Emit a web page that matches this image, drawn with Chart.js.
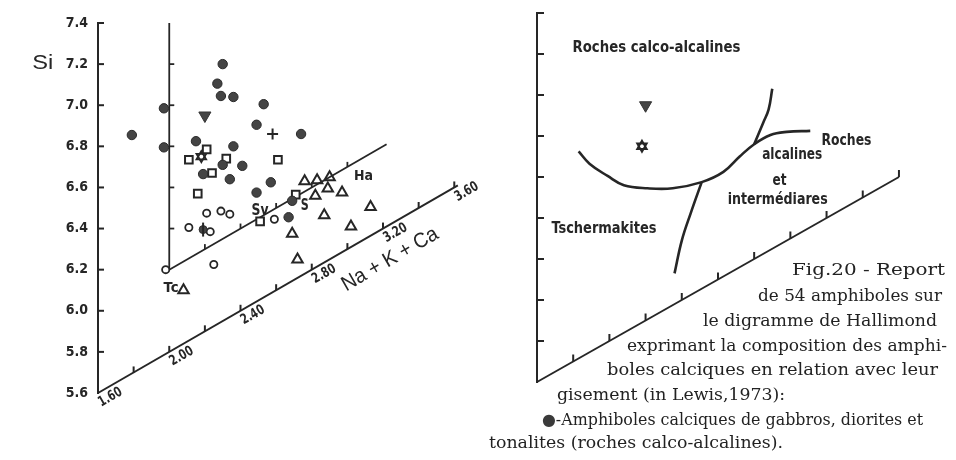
<!DOCTYPE html>
<html><head><meta charset="utf-8">
<script src="https://cdn.jsdelivr.net/npm/chart.js@4.4.0/dist/chart.umd.min.js"></script>
<style>
html,body{margin:0;padding:0;background:#fff;}
#wrap{position:relative;width:956px;height:460px;overflow:hidden;background:#fff;}
#c1{position:absolute;left:0;top:0;width:490px;height:460px;}
#c2{position:absolute;left:490px;top:0;width:466px;height:460px;}
.cap{position:absolute;font-family:'DejaVu Serif','Liberation Serif',serif;font-size:16px;line-height:18px;color:#222;white-space:nowrap;transform-origin:0 50%;}
.cap .dot{color:#3a3a3a;}
</style></head><body>
<div id="wrap">
<canvas id="c1" width="490" height="460"></canvas>
<canvas id="c2" width="466" height="460"></canvas>
<div class="cap" data-w="153" style="left:792px;top:261px">Fig.20 - Report</div>
<div class="cap" data-w="184" style="left:758px;top:287px">de 54 amphiboles sur</div>
<div class="cap" data-w="234" style="left:703px;top:312px">le digramme de Hallimond</div>
<div class="cap" data-w="320" style="left:627px;top:337px">exprimant la composition des amphi-</div>
<div class="cap" data-w="331" style="left:607px;top:361px">boles calciques en relation avec leur</div>
<div class="cap" data-w="228" style="left:557px;top:386px">gisement (in Lewis,1973):</div>
<div class="cap" data-w="381" style="left:542px;top:411px"><span class="dot">●</span>-Amphiboles calciques de gabbros, diorites et</div>
<div class="cap" data-w="294" style="left:489px;top:434px">tonalites (roches calco-alcalines).</div>
</div>
<script>
// ---------- axes / ticks ----------
const N_MIN = 1.6;            // Na+K+Ca at origin
const SI_MIN = 5.6, SI_MAX = 7.4;
const SHEAR = 0.5;            // Hallimond diagram: Na+K+Ca axis is inclined
const SI_TICKS = [5.6, 5.8, 6.0, 6.2, 6.4, 6.6, 6.8, 7.0, 7.2, 7.4];
const NKCA_TICKS = [1.8, 2.0, 2.2, 2.4, 2.6, 2.8, 3.0, 3.2, 3.4, 3.6];
const NKCA_LABEL_VALUES = [1.6, 2.0, 2.4, 2.8, 3.2, 3.6];
const NKCA_LABELS = ['1.60', '2.00', '2.40', '2.80', '3.20', '3.60'];
const INNER_SI_TICKS = [6.2, 6.4, 6.6, 6.8, 7.0];
const INNER_N_TICKS = [2.2, 2.4, 2.6, 2.8, 3.0];

// ---------- data (Na+K+Ca, Si) ----------
const gabbroN  = [1.79, 1.97, 1.97, 2.30, 2.27, 2.29, 2.36, 2.53, 2.49, 2.74, 2.15, 2.36, 2.30, 2.41, 2.19, 2.34, 2.57, 2.49, 2.69, 2.67];
const gabbroSi = [6.76, 6.80, 6.61, 6.85, 6.77, 6.70, 6.66, 6.54, 6.46, 6.29, 6.55, 6.42, 6.36, 6.30, 6.37, 6.27, 6.14, 6.13, 5.99, 5.92];
const openCircleN  = [2.21, 2.29, 2.34, 2.11, 2.23, 2.25, 2.59, 1.98];
const openCircleSi = [6.17, 6.14, 6.10, 6.15, 6.07, 5.90, 5.95, 6.01];
const squareN  = [2.11, 2.21, 2.24, 2.32, 2.16, 2.61, 2.71, 2.51];
const squareSi = [6.48, 6.48, 6.35, 6.38, 6.29, 6.23, 6.01, 5.98];
const triangleN  = [2.76, 2.83, 2.90, 2.82, 2.89, 2.97, 3.13, 2.87, 3.02, 2.69, 2.72, 2.08];
const triangleSi = [6.05, 6.02, 6.00, 5.95, 5.95, 5.89, 5.74, 5.83, 5.70, 5.83, 5.69, 5.86];
const plusN = [2.58],  plusSi = [6.37];
const invTriN = [2.20], invTriSi = [6.65];
const starN = [2.18],  starSi = [6.46];
const phiN = [2.19],   phiSi = [6.10];

// field boundaries (right diagram)
const boundaryMainN  = [1.83, 1.89, 1.99, 2.08, 2.21, 2.35, 2.51, 2.63, 2.72, 2.80, 2.89, 2.98, 3.11];
const boundaryMainSi = [6.61, 6.52, 6.41, 6.32, 6.24, 6.17, 6.12, 6.11, 6.14, 6.16, 6.16, 6.13, 6.07];
const boundaryUpN  = [2.80, 2.85, 2.88, 2.90];
const boundaryUpSi = [6.16, 6.24, 6.29, 6.38];
const boundaryDownN  = [2.51, 2.45, 2.40, 2.36];
const boundaryDownSi = [6.12, 6.00, 5.89, 5.75];

// annotation labels
const LEFT_LABELS = [
  {t: 'Tc', n: 2.01, si: 5.906, size: 14, w: 15},
  {t: 'Sv', n: 2.51, si: 6.029, size: 15, w: 17},
  {t: 'S',  n: 2.76, si: 5.929, size: 15, w: 8},
  {t: 'Ha', n: 3.09, si: 5.908, size: 14, w: 19}
];
const RIGHT_LABELS = [
  {t: 'Roches calco-alcalines', n: 2.26, si: 6.90, w: 168},
  {t: 'Tschermakites', n: 1.97, si: 6.16, w: 105},
  {t: 'Roches', n: 3.31, si: 5.92, w: 50},
  {t: 'alcalines', n: 3.01, si: 6.00, w: 60},
  {t: 'et', n: 2.94, si: 5.91, w: 14},
  {t: 'intermédiares', n: 2.93, si: 5.82, w: 100}
];

const INK = '#262626';
const CONDENSED = "'Liberation Sans Narrow','DejaVu Sans Condensed','Roboto Condensed','Arial Narrow','Liberation Sans',sans-serif";

function proj(nArr, siArr) {
  return nArr.map((n, i) => ({x: n, y: siArr[i] + SHEAR * (n - N_MIN)}));
}
function P(chart, n, si) {
  return {x: chart.scales.x.getPixelForValue(n), y: chart.scales.y.getPixelForValue(si + SHEAR * (n - N_MIN))};
}
function txt(ctx, text, x, y, font, target, o) {
  o = o || {};
  ctx.save();
  ctx.font = font;
  ctx.fillStyle = INK;
  const w = ctx.measureText(text).width;
  const k = target ? target / w : 1;
  ctx.translate(x, y);
  if (o.angle) ctx.rotate(o.angle);
  if (o.dx || o.dy) ctx.translate(o.dx || 0, o.dy || 0);
  ctx.scale(k, 1);
  ctx.textAlign = o.align || 'center';
  ctx.textBaseline = o.baseline || 'middle';
  ctx.fillText(text, 0, 0);
  ctx.restore();
}
function seg(ctx, a, b) { ctx.beginPath(); ctx.moveTo(a.x, a.y); ctx.lineTo(b.x, b.y); ctx.stroke(); }

const markerSets = () => [
  {label: 'plus', data: proj(plusN, plusSi), pointStyle: 'cross', pointRadius: 5.5, borderColor: INK, borderWidth: 2, backgroundColor: INK},
  {label: 'phi-bar', data: proj(phiN, phiSi), pointStyle: 'line', rotation: 90, pointRadius: 7, borderColor: INK, borderWidth: 2},
  {label: 'phi', data: proj(phiN, phiSi), pointStyle: 'circle', pointRadius: 4, backgroundColor: '#444', borderColor: '#2e2e2e', borderWidth: 1},
  {label: 'gabbros', data: proj(gabbroN, gabbroSi), pointStyle: 'circle', pointRadius: 4.7, backgroundColor: '#444', borderColor: '#2a2a2a', borderWidth: 1},
  {label: 'open circles', data: proj(openCircleN, openCircleSi), pointStyle: 'circle', pointRadius: 3.6, backgroundColor: '#fff', borderColor: INK, borderWidth: 1.8},
  {label: 'squares', data: proj(squareN, squareSi), pointStyle: 'rect', pointRadius: 5.4, backgroundColor: '#fff', borderColor: INK, borderWidth: 2},
  {label: 'triangles', data: proj(triangleN, triangleSi), pointStyle: 'triangle', pointRadius: 6, backgroundColor: 'rgba(255,255,255,0)', borderColor: INK, borderWidth: 2}
];
const specialSets = () => [
  {label: 'inv-triangle', data: proj(invTriN, invTriSi), pointStyle: 'triangle', rotation: 180, pointRadius: 7, backgroundColor: '#444', borderColor: '#333', borderWidth: 1},
  {label: 'star-a', data: proj(starN, starSi), pointStyle: 'triangle', rotation: 0, pointRadius: 5.5, backgroundColor: 'rgba(0,0,0,0)', borderColor: INK, borderWidth: 1.9},
  {label: 'star-b', data: proj(starN, starSi), pointStyle: 'triangle', rotation: 180, pointRadius: 5.5, backgroundColor: 'rgba(0,0,0,0)', borderColor: INK, borderWidth: 1.9}
];

function baseOptions(leftWidth, pad, xMax, showLabels) {
  return {
    responsive: false, animation: false, devicePixelRatio: 1,
    layout: {padding: pad},
    plugins: {legend: {display: false}, tooltip: {enabled: false}},
    scales: {
      x: {type: 'linear', display: false, min: N_MIN, max: xMax},
      y: {
        type: 'linear', min: SI_MIN, max: SI_MAX,
        afterBuildTicks: s => { s.ticks = SI_TICKS.map(v => ({value: v})); },
        afterFit: s => { s.width = leftWidth; },
        border: {display: true, color: INK, width: 2},
        grid: {display: true, drawOnChartArea: false, drawTicks: false},
        ticks: {display: showLabels, padding: 10, color: INK,
                font: {family: CONDENSED, size: 14, weight: 'bold'},
                callback: v => Number(v).toFixed(1)}
      }
    }
  };
}

// ---------- left diagram ----------
const leftPlugin = {
  id: 'hallimondLeft',
  beforeDatasetsDraw(chart) {
    const ctx = chart.ctx, ca = chart.chartArea;
    ctx.save();
    ctx.strokeStyle = INK; ctx.lineWidth = 2; ctx.lineCap = 'butt';
    // vertical Si axis inward ticks
    SI_TICKS.filter(v => v > SI_MIN).forEach(v => {
      const y = chart.scales.y.getPixelForValue(v);
      seg(ctx, {x: ca.left, y}, {x: ca.left + 6, y});
    });
    // inclined Na+K+Ca axis
    seg(ctx, P(chart, N_MIN, SI_MIN), P(chart, 3.62, SI_MIN));
    NKCA_TICKS.forEach(n => { const p = P(chart, n, SI_MIN); seg(ctx, p, {x: p.x, y: p.y - 6}); });
    // inner frame (Tc origin)
    ctx.lineWidth = 1.8;
    seg(ctx, P(chart, 2.0, 6.0), P(chart, 2.0, 7.2));
    INNER_SI_TICKS.forEach(s => { const p = P(chart, 2.0, s); seg(ctx, p, {x: p.x + 5, y: p.y}); });
    seg(ctx, P(chart, 2.0, 6.0), P(chart, 3.22, 6.0));
    INNER_N_TICKS.forEach(n => { const p = P(chart, n, 6.0); seg(ctx, p, {x: p.x, y: p.y - 5}); });
    ctx.restore();
    // tick labels of inclined axis
    const a0 = P(chart, N_MIN, SI_MIN), a1 = P(chart, 3.6, SI_MIN);
    const ang = Math.atan2(a1.y - a0.y, a1.x - a0.x);
    NKCA_LABEL_VALUES.forEach((v, i) => {
      const p = P(chart, v, SI_MIN);
      txt(ctx, NKCA_LABELS[i], p.x, p.y, 'bold 14px ' + CONDENSED, 25, {angle: ang, dx: -4, dy: 3, align: 'left', baseline: 'top'});
    });
    // axis titles
    const si = P(chart, 1.29, 7.36);
    txt(ctx, 'Si', si.x, si.y, '20px "Liberation Sans",sans-serif', 21);
    const nk = P(chart, 3.24, 5.43);
    txt(ctx, 'Na + K + Ca', nk.x, nk.y, '21px "Liberation Sans",sans-serif', 108, {angle: ang});
    LEFT_LABELS.forEach(l => {
      const p = P(chart, l.n, l.si);
      txt(ctx, l.t, p.x, p.y, 'bold ' + l.size + 'px ' + CONDENSED, l.w);
    });
  }
};

new Chart(document.getElementById('c1'), {
  type: 'scatter',
  data: {datasets: [...specialSets(), ...markerSets()].map(d => Object.assign({clip: false, showLine: false}, d))},
  options: baseOptions(98, {left: 0, top: 23, right: 3, bottom: 67}, 3.75, true),
  plugins: [leftPlugin]
});

// ---------- right diagram ----------
const rightPlugin = {
  id: 'hallimondRight',
  beforeDatasetsDraw(chart) {
    const ctx = chart.ctx, ca = chart.chartArea;
    ctx.save();
    ctx.strokeStyle = INK; ctx.lineWidth = 2;
    SI_TICKS.filter(v => v > SI_MIN).forEach(v => {
      const y = chart.scales.y.getPixelForValue(v);
      seg(ctx, {x: ca.left, y}, {x: ca.left + 7, y});
    });
    seg(ctx, P(chart, N_MIN, SI_MIN), P(chart, 3.6, SI_MIN));
    NKCA_TICKS.forEach(n => { const p = P(chart, n, SI_MIN); seg(ctx, p, {x: p.x, y: p.y - 7}); });
    ctx.restore();
    RIGHT_LABELS.forEach(l => {
      const p = P(chart, l.n, l.si);
      txt(ctx, l.t, p.x, p.y, 'bold 15px ' + CONDENSED, l.w);
    });
  }
};

const curve = (nA, sA) => ({data: proj(nA, sA), showLine: true, pointRadius: 0, borderColor: INK, borderWidth: 2.6, tension: 0.4, fill: false, clip: false});
new Chart(document.getElementById('c2'), {
  type: 'scatter',
  data: {datasets: [
    ...specialSets().map(d => Object.assign({clip: false, showLine: false}, d)),
    curve(boundaryMainN, boundaryMainSi),
    curve(boundaryUpN, boundaryUpSi),
    curve(boundaryDownN, boundaryDownSi)
  ]},
  options: baseOptions(47, {left: 0, top: 13, right: 10, bottom: 78}, 3.86, false),
  plugins: [rightPlugin]
});

// caption lines fitted to their widths
document.querySelectorAll('.cap').forEach(el => {
  const w = el.getBoundingClientRect().width;
  el.style.transform = 'scaleX(' + (Number(el.dataset.w) / w).toFixed(3) + ')';
});
</script>
</body></html>
